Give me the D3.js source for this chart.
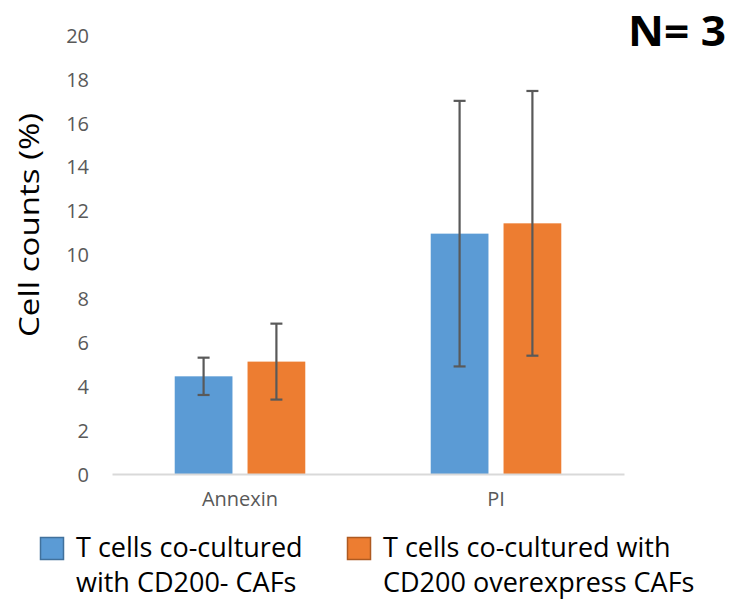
<!DOCTYPE html>
<html><head><meta charset="utf-8">
<script src="https://cdn.jsdelivr.net/npm/d3@7"></script>
<style>body{margin:0;background:#fff;} svg{display:block;}</style>
</head><body>
<script>
const categories = ["Annexin", "PI"];
const seriesNames = ["T cells co-cultured with CD200- CAFs", "T cells co-cultured with CD200 overexpress CAFs"];
const legendLines = [["T cells co-cultured", "with CD200- CAFs"], ["T cells co-cultured with", "CD200 overexpress CAFs"]];
const seriesA = [4.45, 10.95];
const seriesB = [5.12, 11.42];
const errorsA = [0.85, 6.05];
const errorsB = [1.73, 6.03];
const yTicks = [0, 2, 4, 6, 8, 10, 12, 14, 16, 18, 20];
const colors = ["#5b9bd5", "#ed7d31"];
const borders = ["#41719c", "#ae5a21"];

const W = 732, H = 602;
const svg = d3.select("body").append("svg").attr("width", W).attr("height", H);
const font = "'Open Sans', sans-serif";

const x = d3.scaleBand().domain(categories).range([112, 624]).paddingInner(0.49).paddingOuter(0.245);
const xs = d3.scaleBand().domain([0, 1]).range([0, x.bandwidth()]).paddingInner(0.207);
const y = d3.scaleLinear().domain([0, 20]).range([474, 35]);

// y tick labels
const yAxis = d3.axisLeft(y).tickValues(yTicks).tickSize(0).tickPadding(0);
const gy = svg.append("g").attr("transform", "translate(89,0)").call(yAxis);
gy.select(".domain").remove();
gy.selectAll("text").attr("fill", "#595959").style("font-family", font).style("font-size", "20px").attr("dy", "0.36em");

// bars
const data = categories.map((c, i) => [
  {c, s: 0, v: seriesA[i], e: errorsA[i]},
  {c, s: 1, v: seriesB[i], e: errorsB[i]}
]).flat();

svg.append("g").selectAll("rect").data(data).join("rect")
  .attr("x", d => x(d.c) + xs(d.s))
  .attr("y", d => y(d.v))
  .attr("width", xs.bandwidth())
  .attr("height", d => y(0) - y(d.v))
  .attr("fill", d => colors[d.s]);

// x axis line
const xAxis = d3.axisBottom(x).tickSize(0).tickPadding(0);
const gx = svg.append("g").attr("transform", `translate(0,${y(0)})`).call(xAxis);
gx.select(".domain").attr("stroke", "#d9d9d9").attr("stroke-width", 2);
gx.selectAll("text").attr("fill", "#595959").style("font-family", font).style("font-size", "20px").attr("dy", "1.6em");

// error bars
const eg = svg.append("g").attr("stroke", "#595959").attr("stroke-width", 2.2);
data.forEach(d => {
  const cx = x(d.c) + xs(d.s) + xs.bandwidth() / 2;
  eg.append("line").attr("x1", cx).attr("x2", cx).attr("y1", y(d.v + d.e)).attr("y2", y(d.v - d.e));
  eg.append("line").attr("x1", cx - 6).attr("x2", cx + 6).attr("y1", y(d.v + d.e)).attr("y2", y(d.v + d.e));
  eg.append("line").attr("x1", cx - 6).attr("x2", cx + 6).attr("y1", y(d.v - d.e)).attr("y2", y(d.v - d.e));
});

// y title
svg.append("text").attr("transform", "translate(39,225) rotate(-90)")
  .attr("text-anchor", "middle").style("font-family", font).style("font-size", "28px").attr("fill", "#000")
  .attr("textLength", 224).attr("lengthAdjust", "spacingAndGlyphs")
  .text("Cell counts (%)");

// N=3
svg.append("text").attr("x", 628).attr("y", 46)
  .style("font-family", font).style("font-size", "41px").style("font-weight", "bold").attr("fill", "#000")
  .attr("textLength", 98).attr("lengthAdjust", "spacingAndGlyphs")
  .text("N= 3");

// legend
const legX = [40, 347];
legendLines.forEach((lines, i) => {
  const g = svg.append("g").attr("transform", `translate(${legX[i]},0)`);
  g.append("rect").attr("x", 0.5).attr("y", 537.5).attr("width", 23).attr("height", 22)
    .attr("fill", colors[i]).attr("stroke", borders[i]).attr("stroke-width", 1.5);
  lines.forEach((t, j) => {
    g.append("text").attr("x", 36).attr("y", 557 + j * 35)
      .style("font-family", font).style("font-size", "27px").attr("fill", "#000").text(t);
  });
});
</script>
</body></html>
